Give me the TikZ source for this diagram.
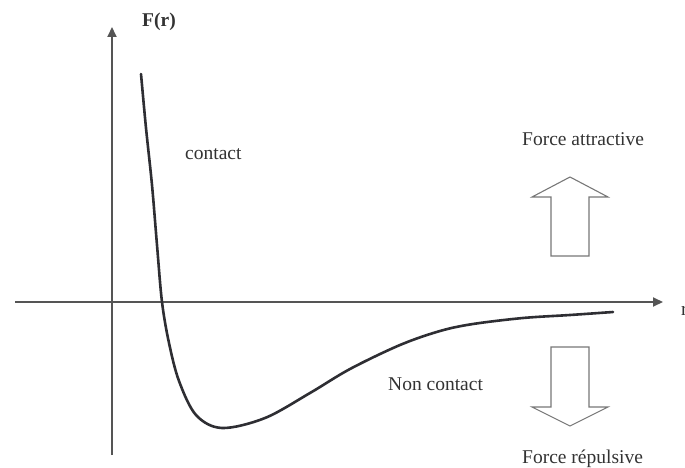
\documentclass[tikz,border=0pt]{standalone}
\usepackage{fontspec}
\setmainfont{Liberation Serif}
\usetikzlibrary{arrows.meta}
\definecolor{axisgray}{HTML}{555555}
\definecolor{curvecol}{HTML}{2E2E33}
\definecolor{boxgray}{HTML}{777777}
\definecolor{txt}{HTML}{333333}
\tikzset{
  axisline/.style={draw=axisgray, line width=2pt, -{Triangle[length=10pt,width=9pt]}},
  curveline/.style={draw=curvecol, line width=2.6pt, line cap=round},
  forcearrow/.style={draw=boxgray, line width=1.1pt, line join=miter},
  lbl/.style={text=txt, font=\fontsize{19.5}{23}\selectfont, inner sep=0pt, anchor=base west}
}
\begin{document}
\begin{tikzpicture}[x=1pt,y=-1pt]
\useasboundingbox (0,0) rectangle (685,468);
% axes
\coordinate (ybot) at (112,455);
\coordinate (ytop) at (112,27);
\coordinate (xl) at (15,302);
\coordinate (xr) at (663,302);
\draw[axisline] (ybot) -- (ytop);
\draw[axisline] (xl) -- (xr);
% curve
\draw[curveline] plot[smooth, tension=0.55] coordinates {
 (141,74) (146,128) (152,185) (157,245) (162,302) (169,343) (179,381) (196,415) (222,428)
 (265,418) (310,393) (350,369) (400,345) (440,331) (473,324) (523,318) (570,315) (613,312)};
% force arrows
\draw[forcearrow] (570,177) -- (608,197) -- (589,197) -- (589,256) -- (551,256) -- (551,197) -- (532,197) -- cycle;
\draw[forcearrow] (551,347) -- (589,347) -- (589,407) -- (608,407) -- (570,426) -- (532,407) -- (551,407) -- cycle;
% labels
\node[lbl, font=\fontsize{19.5}{23}\selectfont\bfseries] (fr) at (142,27) {F(r)};
\node[lbl] (ct) at (185,160) {contact};
\node[lbl] (nc) at (388,390) {Non contact};
\node[lbl] (fa) at (522,146) {Force attractive};
\node[lbl] (fp) at (522,463) {Force répulsive};
\node[lbl] (rr) at (681,315) {r};
\end{tikzpicture}
\end{document}
